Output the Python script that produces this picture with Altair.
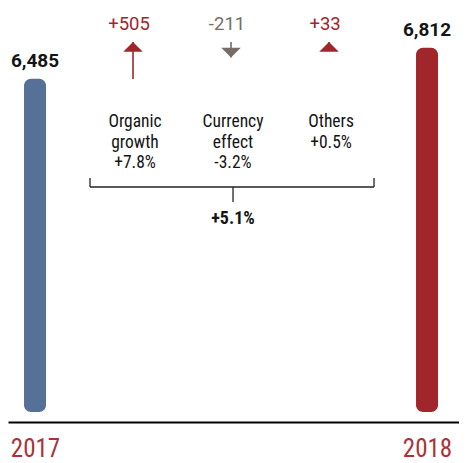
import altair as alt

# ---- data ----
years = ["2017", "2018"]
totals = [6485, 6812]
steps = ["Organic growth", "Currency effect", "Others"]
step_lines = [["Organic", "growth", "+7.8%"], ["Currency", "effect", "-3.2%"], ["Others", "+0.5%"]]
deltas = [505, -211, 33]
delta_labels = ["+505", "-211", "+33"]
total_growth = "+5.1%"
categories = [years[0]] + steps + [years[1]]

# ---- styles ----
BLUE = "#557198"
RED = "#a1262c"
TXT_RED = "#aa3238"
GRAY = "#766d67"
INK = "#151515"
COND = "Liberation Sans Narrow, Roboto Condensed, DejaVu Sans Condensed, sans-serif"
SANS = "Roboto, sans-serif"

xs = alt.Scale(type="point", domain=categories, padding=0.301, align=0.458)
xaxis = alt.Axis(
    title=None, ticks=False, tickSize=0, grid=False, labelAngle=0,
    labelPadding=14, labelFontSize=25, labelFont=COND, labelColor=TXT_RED,
    labelExpr="datum.label == '2017' || datum.label == '2018' ? datum.label : ''",
    labelOverlap=False, domainColor="#000000", domainWidth=2,
)


def X(field):
    return alt.X(field, type="nominal", scale=xs, axis=xaxis)


ys = alt.Scale(domain=[2972, 7000], range=[404, 22])
ascale = alt.Scale(domain=[0, 505], range=[34, 71])

bar_rows = [{"cat": c, "value": v} for c, v in zip(years, totals)]
step_rows = [
    {"cat": c, "delta": d, "label": t, "lines": l}
    for c, d, t, l in zip(steps, deltas, delta_labels, step_lines)
]

bars_base = alt.Chart(alt.Data(values=bar_rows))
bars = bars_base.mark_bar(size=22, cornerRadius=7).encode(
    x=X("cat"),
    y=alt.Y("value:Q", scale=ys, axis=None),
    y2=alt.datum(2972),
    color=alt.Color("cat:N", scale=alt.Scale(domain=years, range=[BLUE, RED]), legend=None),
)
bar_text = bars_base.mark_text(
    font=SANS, fontWeight="bold", fontSize=19, baseline="alphabetic", dy=-12, color=INK
).encode(
    x=X("cat"),
    y=alt.Y("value:Q", scale=ys, axis=None),
    text=alt.Text("value:Q", format=","),
)
bar_layer = alt.layer(bars, bar_text)

steps_base = alt.Chart(alt.Data(values=step_rows)).transform_calculate(
    mag="abs(datum.delta)",
    dir="datum.delta > 0 ? 'up' : 'down'",
    tip="datum.delta > 0 ? 0 : abs(datum.delta)",
    zero="0",
)
dir_color = alt.Color("dir:N", scale=alt.Scale(domain=["up", "down"], range=[RED, GRAY]), legend=None)

stems = steps_base.mark_rule(strokeWidth=1.6).encode(
    x=X("cat"),
    y=alt.Y("mag:Q", scale=ascale, axis=None),
    y2="zero:Q",
    color=dir_color,
)
tris = steps_base.mark_point(filled=True, opacity=1, size=380, strokeWidth=0).encode(
    x=X("cat"),
    y=alt.Y("tip:Q", scale=ascale, axis=None),
    shape=alt.Shape(
        "dir:N",
        scale=alt.Scale(domain=["up", "down"], range=["M0,0L-1,1L1,1Z", "M0,0L-1,-1L1,-1Z"]),
        legend=None,
    ),
    color=dir_color,
)
delta_text = steps_base.mark_text(
    font=SANS, fontSize=18.5, baseline="alphabetic", dy=-12, dx=-4
).encode(
    x=X("cat"),
    y=alt.Y("zero:Q", scale=ascale, axis=None),
    text="label:N",
    color=dir_color,
)
step_text = steps_base.mark_text(
    font=COND, fontSize=17.5, lineHeight=20.5, baseline="alphabetic", dx=2, color=INK
).encode(
    x=X("cat"),
    y=alt.value(119),
    text="lines:N",
)

bracket = alt.Chart(alt.Data(values=[{"a": steps[0], "b": steps[2]}])).mark_rule(
    xOffset=-43, x2Offset=45, strokeWidth=1.3, color="#222222"
).encode(x=X("a"), x2=alt.X2("b"), y=alt.value(179))
tick_left = alt.Chart(alt.Data(values=[{"cat": steps[0]}])).mark_rule(
    xOffset=-43, strokeWidth=1.3, color="#222222"
).encode(x=X("cat"), y=alt.value(170), y2=alt.value(179))
tick_right = alt.Chart(alt.Data(values=[{"cat": steps[2]}])).mark_rule(
    xOffset=45, strokeWidth=1.3, color="#222222"
).encode(x=X("cat"), y=alt.value(170), y2=alt.value(179))
total_base = alt.Chart(alt.Data(values=[{"cat": steps[1], "t": total_growth}]))
tick_mid = total_base.mark_rule(xOffset=2, strokeWidth=1.3, color="#222222").encode(
    x=X("cat"), y=alt.value(179), y2=alt.value(194)
)
total_text = total_base.mark_text(
    font=COND, fontWeight="bold", fontSize=18, baseline="alphabetic", dx=2, color=INK
).encode(x=X("cat"), y=alt.value(216), text="t:N")

anno_layer = alt.layer(stems, tris, delta_text, step_text, bracket, tick_left, tick_right, tick_mid, total_text)

chart = (
    alt.layer(bar_layer, anno_layer)
    .resolve_scale(y="independent", color="independent")
    .properties(
        width=451,
        height=414,
        autosize=alt.AutoSizeParams(type="none"),
        padding={"left": 0, "top": 0, "right": 0, "bottom": 41},
    )
    .configure_view(stroke=None)
)

chart.save("out.html", embed_options={"renderer": "svg", "actions": False})
